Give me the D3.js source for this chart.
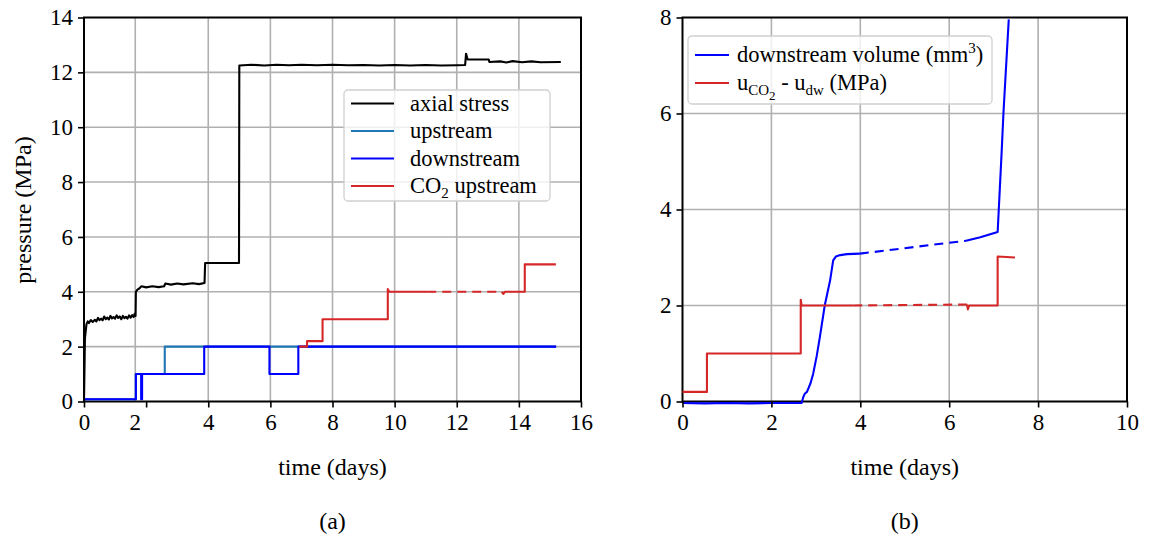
<!DOCTYPE html>
<html>
<head>
<meta charset="utf-8">
<script src="https://cdn.jsdelivr.net/npm/d3@7"></script>
<style>
  html, body { margin: 0; padding: 0; background: #fff; }
  svg { display: block; }
  text { font-family: "Liberation Serif", "DejaVu Serif", serif; fill: #000; }
</style>
</head>
<body>
<svg id="fig" width="1155" height="536"></svg>
<script>
// ---------- panel (a): pressures vs time (days) ----------
const axialStress = [
  [0, 0], [0.03, 2.3], [0.08, 2.82], [0.12, 2.92], [0.16, 2.86], [0.22, 2.97], [0.28, 2.9],
  [0.35, 2.98], [0.4, 2.92], [0.45, 3.05], [0.5, 2.97], [0.55, 3.02], [0.6, 2.96],
  [0.65, 3.1], [0.7, 3.0], [0.75, 3.06], [0.8, 2.99], [0.85, 3.12], [0.9, 3.03],
  [0.95, 3.08], [1.0, 3.02], [1.05, 3.14], [1.1, 3.05], [1.15, 3.1], [1.2, 3.0],
  [1.25, 3.12], [1.3, 3.04], [1.35, 3.09], [1.4, 3.02], [1.45, 3.14], [1.5, 3.06],
  [1.55, 3.15], [1.6, 3.08], [1.63, 3.2], [1.66, 3.12],
  [1.67, 4.0], [1.72, 4.08], [1.78, 4.12], [1.85, 4.2], [2.0, 4.16], [2.2, 4.2], [2.4, 4.17],
  [2.58, 4.2], [2.62, 4.3], [2.8, 4.26], [3.0, 4.3], [3.2, 4.27], [3.5, 4.31], [3.7, 4.28],
  [3.88, 4.32], [3.9, 5.05], [4.99, 5.05],
  [5.0, 12.25], [5.4, 12.28], [5.8, 12.25], [6.2, 12.28], [6.6, 12.26], [7.0, 12.28],
  [7.5, 12.26], [8.0, 12.28], [8.5, 12.26], [9.0, 12.27], [9.5, 12.25], [10.0, 12.27],
  [10.5, 12.25], [11.0, 12.27], [11.5, 12.25], [12.0, 12.26], [12.27, 12.27],
  [12.3, 12.68], [12.35, 12.47], [13.03, 12.47], [13.05, 12.38], [13.4, 12.4],
  [13.6, 12.36], [13.8, 12.41], [14.1, 12.37], [14.4, 12.4], [14.7, 12.37], [15.35, 12.38]
];
const upstream = [
  [0, 0.08], [1.67, 0.08], [1.67, 1.0], [2.6, 1.0], [2.6, 2.0], [15.2, 2.0]
];
const downstream = [
  [0, 0.08], [1.67, 0.08], [1.67, 1.0], [1.84, 1.0], [1.84, 0.08], [1.87, 0.08], [1.87, 1.0],
  [3.87, 1.0], [3.87, 2.0], [5.97, 2.0], [5.97, 1.0], [6.9, 1.0], [6.9, 2.0], [15.2, 2.0]
];
const co2UpstreamA = [
  [6.93, 2.0], [7.18, 2.0], [7.18, 2.2], [7.68, 2.2], [7.68, 3.0], [9.78, 3.0],
  [9.78, 4.1], [9.82, 4.0], [11.05, 4.0]
];
const co2UpstreamGapA = [[11.05, 4.0], [13.45, 4.0]];
const co2UpstreamB = [
  [13.45, 4.0], [13.5, 3.92], [13.55, 4.0], [14.19, 4.0], [14.19, 5.0], [15.19, 5.0]
];
const xTicksA = [0, 2, 4, 6, 8, 10, 12, 14, 16];
const xGridA = [1.65, 4, 6, 8, 10, 12, 14];
const yTicksA = [0, 2, 4, 6, 8, 10, 12, 14];

// ---------- panel (b): volume and pressure difference ----------
const volumeA = [
  [0, -0.03], [0.5, -0.04], [1.0, -0.03], [1.5, -0.04], [2.0, -0.03], [2.68, -0.03],
  [2.72, 0.1], [2.75, 0.16], [2.8, 0.2], [2.88, 0.38], [2.94, 0.58], [3.02, 0.95],
  [3.09, 1.34], [3.2, 2.0], [3.32, 2.52], [3.39, 2.94], [3.45, 3.02], [3.55, 3.05],
  [3.7, 3.07], [3.99, 3.08]
];
const volumeGap = [[3.99, 3.08], [6.38, 3.35]];
const volumeB = [
  [6.38, 3.35], [6.7, 3.42], [7.09, 3.53], [7.18, 5.2], [7.22, 6.0], [7.34, 7.96]
];
const deltaUA = [
  [0, 0.2], [0.55, 0.2], [0.55, 1.0], [2.66, 1.0], [2.66, 2.12], [2.68, 2.0], [3.84, 2.0]
];
const deltaUGap = [[3.84, 2.0], [6.4, 2.02]];
const deltaUB = [
  [6.4, 2.02], [6.42, 1.92], [6.45, 2.0], [7.09, 2.0], [7.09, 3.02], [7.48, 3.0]
];
const xTicksB = [0, 2, 4, 6, 8, 10];
const yTicksB = [0, 2, 4, 6, 8];

const C_BLACK = "#000000", C_UP = "#1f77b4", C_DOWN = "#0000ff", C_RED = "#d62728";
const GRID = "#b0b0b0";

const svg = d3.select("#fig");

function panel(opts) {
  const g = svg.append("g");
  const x = d3.scaleLinear().domain(opts.xDomain).range([opts.left, opts.right]);
  const y = d3.scaleLinear().domain(opts.yDomain).range([opts.bottom, opts.top]);
  const clipId = "clip-" + opts.name;
  svg.append("clipPath").attr("id", clipId).append("rect")
    .attr("x", opts.left - 3).attr("y", opts.top)
    .attr("width", opts.right - opts.left + 6).attr("height", opts.bottom - opts.top + 4);

  // grid
  g.append("g").selectAll("line").data(opts.xGrid).join("line")
    .attr("x1", d => x(d)).attr("x2", d => x(d))
    .attr("y1", opts.top).attr("y2", opts.bottom)
    .attr("stroke", GRID).attr("stroke-width", 1.6);
  g.append("g").selectAll("line").data(opts.yGrid).join("line")
    .attr("y1", d => y(d)).attr("y2", d => y(d))
    .attr("x1", opts.left).attr("x2", opts.right)
    .attr("stroke", GRID).attr("stroke-width", 1.6);

  // frame under the data
  g.append("rect").attr("x", opts.left).attr("y", opts.top)
    .attr("width", opts.right - opts.left).attr("height", opts.bottom - opts.top)
    .attr("fill", "none").attr("stroke", "#000").attr("stroke-width", 2);

  const plot = g.append("g").attr("clip-path", `url(#${clipId})`);
  const line = d3.line().x(d => x(d[0])).y(d => y(d[1]));
  opts.series.forEach(s => {
    plot.append("path").datum(s.data).attr("d", line)
      .attr("fill", "none").attr("stroke", s.color)
      .attr("stroke-width", s.width || 2.1)
      .attr("stroke-linejoin", "round")
      .attr("stroke-dasharray", s.dash || null);
  });

  // axes
  const xAxis = d3.axisBottom(x).tickValues(opts.xTicks)
    .tickFormat(opts.xFormat || d3.format("d")).tickSizeOuter(0).tickSize(6).tickPadding(6);
  const yAxis = d3.axisLeft(y).tickValues(opts.yTicks)
    .tickFormat(d3.format("d")).tickSizeOuter(0).tickSize(6).tickPadding(5);
  const gx = g.append("g").attr("transform", `translate(0,${opts.bottom})`).call(xAxis);
  const gy = g.append("g").attr("transform", `translate(${opts.left},0)`).call(yAxis);
  [gx, gy].forEach(a => {
    a.select(".domain").remove();
    a.selectAll(".tick line").attr("stroke", "#000").attr("stroke-width", 1.6);
    a.selectAll(".tick text").attr("font-size", 23)
      .attr("font-family", "Liberation Serif, serif").attr("fill", "#000");
  });

  // axis label and caption
  g.append("text").attr("x", (opts.left + opts.right) / 2).attr("y", 475)
    .attr("text-anchor", "middle").attr("font-size", 24).text("time (days)");
  g.append("text").attr("x", (opts.left + opts.right) / 2).attr("y", 529)
    .attr("text-anchor", "middle").attr("font-size", 24).text(opts.caption);
  return { g, x, y };
}

// panel (a)
const A = panel({
  name: "a", left: 84, right: 581, top: 17.5, bottom: 401.5,
  xDomain: [0, 16], yDomain: [0, 14],
  xTicks: xTicksA, xFormat: d => (d === 2 ? "" : d3.format("d")(d)),
  yTicks: yTicksA, xGrid: xGridA, yGrid: [2, 4, 6, 8, 10, 12],
  caption: "(a)",
  series: [
    { data: upstream, color: C_UP },
    { data: downstream, color: C_DOWN },
    { data: co2UpstreamA, color: C_RED },
    { data: co2UpstreamGapA, color: C_RED, dash: "9,6" },
    { data: co2UpstreamB, color: C_RED },
    { data: axialStress, color: C_BLACK }
  ]
});
// the "2" label sits on the first vertical grid line
A.g.append("text").attr("x", A.x(1.65)).attr("y", 401.5 + 6 + 6)
  .attr("dy", "0.71em").attr("text-anchor", "middle").attr("font-size", 23).text("2");
A.g.append("text")
  .attr("transform", "translate(31,210) rotate(-90)")
  .attr("text-anchor", "middle").attr("font-size", 24).text("pressure (MPa)");

// panel (b)
const B = panel({
  name: "b", left: 682.5, right: 1127, top: 17.5, bottom: 401.5,
  xDomain: [0, 10], yDomain: [0, 8],
  xTicks: xTicksB, yTicks: yTicksB, xGrid: [2, 4, 6, 8], yGrid: [2, 4, 6],
  caption: "(b)",
  series: [
    { data: volumeA, color: C_DOWN },
    { data: volumeGap, color: C_DOWN, dash: "9,6" },
    { data: volumeB, color: C_DOWN },
    { data: deltaUA, color: C_RED },
    { data: deltaUGap, color: C_RED, dash: "9,6" },
    { data: deltaUB, color: C_RED }
  ]
});

// ---------- legends ----------
function legend(box, items) {
  const g = svg.append("g");
  g.append("rect").attr("x", box.x).attr("y", box.y).attr("width", box.w).attr("height", box.h)
    .attr("rx", 4).attr("fill", "#fff").attr("fill-opacity", 0.8)
    .attr("stroke", "#d0d0d0").attr("stroke-width", 1.3);
  items.forEach((it, i) => {
    const cy = box.y + box.first + i * box.step;
    g.append("line").attr("x1", box.x + box.lx1).attr("x2", box.x + box.lx2)
      .attr("y1", cy).attr("y2", cy).attr("stroke", it.color).attr("stroke-width", 2.2);
    const t = g.append("text").attr("x", box.x + box.tx).attr("y", cy + 7).attr("font-size", box.fs);
    it.parts.forEach(p => {
      const ts = t.append("tspan").text(p.t);
      if (p.size) ts.attr("font-size", p.size);
      if (p.dy) ts.attr("dy", p.dy);
    });
  });
}

legend({ x: 344, y: 90, w: 206, h: 111, first: 13.5, step: 27.5, lx1: 7, lx2: 50, tx: 66, fs: 22.5 }, [
  { color: C_BLACK, parts: [{ t: "axial stress" }] },
  { color: C_UP, parts: [{ t: "upstream" }] },
  { color: C_DOWN, parts: [{ t: "downstream" }] },
  { color: C_RED, parts: [{ t: "CO" }, { t: "2", size: 15, dy: 5 }, { t: " upstream", dy: -5 }] }
]);

legend({ x: 688, y: 36, w: 304, h: 68, first: 19, step: 28, lx1: 7, lx2: 41, tx: 49, fs: 22.5 }, [
  { color: C_DOWN, parts: [{ t: "downstream volume (mm" }, { t: "3", size: 15, dy: -9 }, { t: ")", dy: 9 }] },
  { color: C_RED, parts: [
    { t: "u" }, { t: "CO", size: 15, dy: 5 }, { t: "2", size: 13, dy: 5 },
    { t: " - u", dy: -10 }, { t: "dw", size: 15, dy: 5 }, { t: " (MPa)", dy: -5 }
  ] }
]);
</script>
</body>
</html>
